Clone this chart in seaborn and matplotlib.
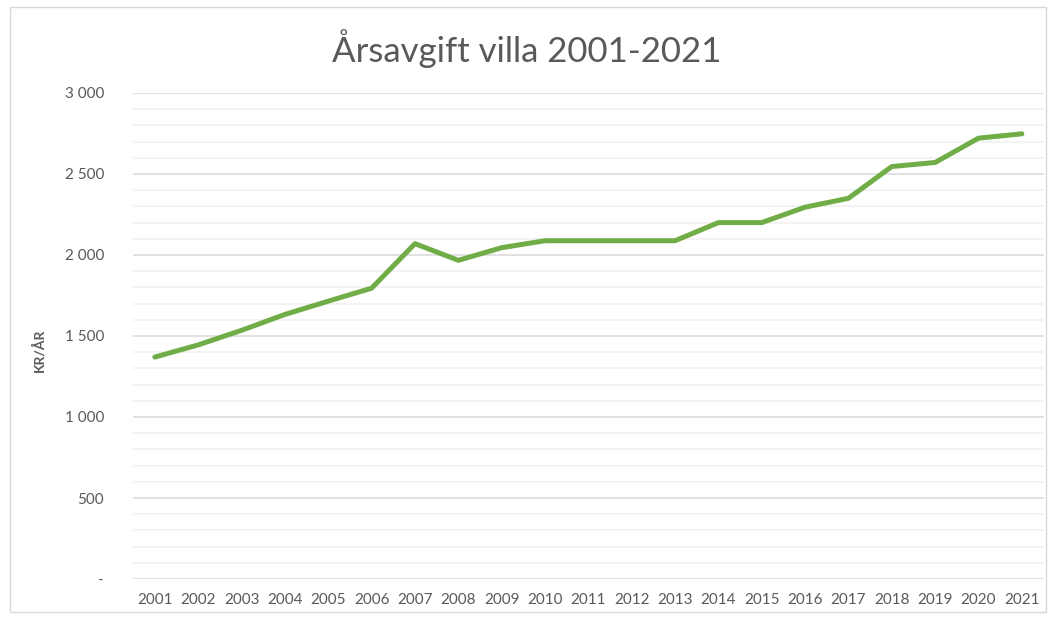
import matplotlib.pyplot as plt
import matplotlib.ticker as mticker
import seaborn as sns
import pandas as pd

years = list(range(2001, 2022))
fees = [1370, 1445, 1535, 1633, 1715, 1795, 2070, 1967, 2045, 2088,
        2088, 2088, 2088, 2200, 2200, 2295, 2350, 2546, 2571, 2721, 2748]
y_ticks = [0, 500, 1000, 1500, 2000, 2500, 3000]

df = pd.DataFrame({'year': years, 'fee': fees})

sns.set_style('white')
plt.rcParams['font.family'] = ['Lato', 'DejaVu Sans']

fig = plt.figure(figsize=(10.53, 6.19), dpi=100)
ax = fig.add_axes([0.1265, 0.0646, 0.8645, 0.7852])

# grid: minor every 100, major every 500
for v in range(0, 3001, 100):
    if v % 500 == 0:
        ax.axhline(v, color='#d9d9d9', lw=1.1, zorder=0)
    else:
        ax.axhline(v, color='#f0f0f0', lw=1.1, zorder=0)

sns.lineplot(data=df, x='year', y='fee', color='#70AD47', lw=3.6, ax=ax,
             solid_capstyle='round', solid_joinstyle='round')

ax.set_xlim(2000.5, 2021.5)
ax.set_ylim(0, 3000)
ax.set_xticks(years)
ax.set_yticks(y_ticks)


def fmt(v, pos):
    if v == 0:
        return '-'
    return f'{int(v):,}'.replace(',', ' ')


ax.yaxis.set_major_formatter(mticker.FuncFormatter(fmt))
ax.tick_params(axis='both', length=0, labelsize=11, labelcolor='#595959')
ax.tick_params(axis='y', pad=21)
ax.tick_params(axis='x', pad=10)
for s in ax.spines.values():
    s.set_visible(False)

ax.set_xlabel('')
ax.set_ylabel('KR/ÅR', fontsize=10, fontweight='bold', color='#595959')
ax.yaxis.set_label_coords(-0.097, 0.47)
fig.text(0.5, 0.922, 'Årsavgift villa 2001-2021', ha='center', va='center',
         fontsize=25, fontweight='normal', color='#595959')

# chart frame
fig.patches.append(plt.Rectangle((0.0095, 0.011), 0.984, 0.977, transform=fig.transFigure,
                                 fill=False, edgecolor='#d9d9d9', lw=1))

plt.savefig('out.png', dpi=100)
